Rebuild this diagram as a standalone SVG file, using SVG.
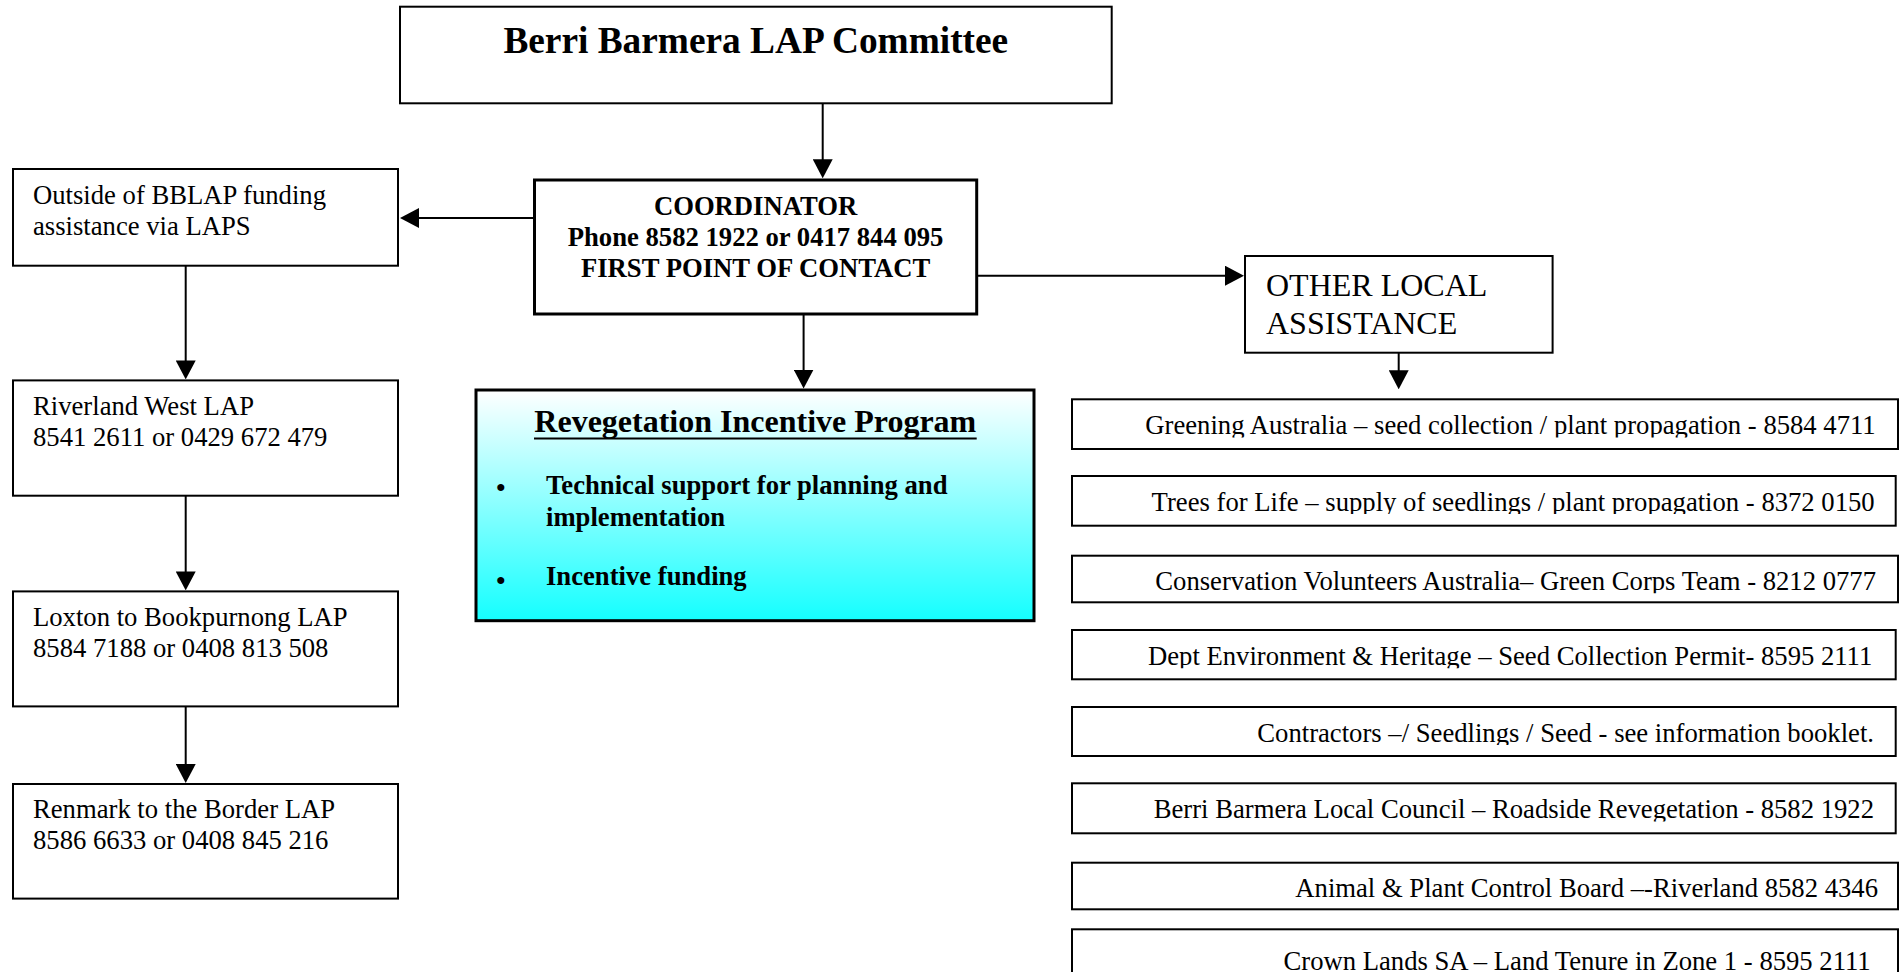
<svg xmlns="http://www.w3.org/2000/svg" width="1899" height="972" viewBox="0 0 1899 972">
<style>
  .box { fill: #ffffff; stroke: #000000; stroke-width: 2; }
  .thick { stroke-width: 3; }
  .t { font-family: "Liberation Serif", "Times New Roman", serif; fill: #000000; }
  .reg { font-size: 26.67px; }
  .bold { font-weight: bold; }
  .item { font-size: 26.67px; text-anchor: end; }
  .conn { stroke: #000000; stroke-width: 2; fill: none; marker-end: url(#arrow); }
</style>
<defs>
  <marker id="arrow" markerUnits="userSpaceOnUse" markerWidth="19" markerHeight="20" refX="9" refY="10" orient="auto" viewBox="0 0 19 20">
    <path d="M0,0 L19,10 L0,20 Z" fill="#000000"/>
  </marker>
  <linearGradient id="cyanGrad" x1="0" y1="0" x2="0" y2="1">
    <stop offset="0" stop-color="#ffffff"/>
    <stop offset="1" stop-color="#14ffff"/>
  </linearGradient>
  <clipPath id="c1"><rect x="1073" y="400" width="825" height="37.5"/></clipPath>
  <clipPath id="c2"><rect x="1073" y="477" width="825" height="37"/></clipPath>
  <clipPath id="c3"><rect x="1073" y="556" width="825" height="37.2"/></clipPath>
  <clipPath id="c4"><rect x="1073" y="631" width="825" height="37.2"/></clipPath>
  <clipPath id="c5"><rect x="1073" y="708" width="825" height="37"/></clipPath>
  <clipPath id="c6"><rect x="1073" y="784" width="825" height="37.5"/></clipPath>
</defs>

<rect width="1899" height="972" fill="#ffffff"/>

<g id="connectors">
  <path class="conn" d="M822.7,103.3 V168.3"/>
  <path class="conn" d="M534.5,218 H410"/>
  <path class="conn" d="M976.7,275.7 H1234"/>
  <path class="conn" d="M803.6,314 V378.5"/>
  <path class="conn" d="M185.7,265.7 V369.4"/>
  <path class="conn" d="M185.7,495.7 V580.4"/>
  <path class="conn" d="M185.7,706.4 V773"/>
  <path class="conn" d="M1398.7,352.7 V379.3"/>
</g>

<g id="node-committee">
  <rect class="box" x="400" y="6.7" width="711.7" height="96.6"/>
  <text class="t bold" x="755.8" y="52.7" font-size="37.33" text-anchor="middle">Berri Barmera LAP Committee</text>
</g>

<g id="node-coordinator">
  <rect class="box thick" x="534.5" y="180" width="442.2" height="134"/>
  <text class="t bold reg" x="755.6" y="215" text-anchor="middle">COORDINATOR</text>
  <text class="t bold reg" x="755.6" y="246" text-anchor="middle">Phone 8582 1922 or 0417 844 095</text>
  <text class="t bold reg" x="755.6" y="277" text-anchor="middle">FIRST POINT OF CONTACT</text>
</g>

<g id="node-outside">
  <rect class="box" x="13" y="169" width="385" height="96.7"/>
  <text class="t reg" x="33" y="204">Outside of BBLAP funding</text>
  <text class="t reg" x="33" y="235">assistance via LAPS</text>
</g>

<g id="node-riverland">
  <rect class="box" x="13" y="380.4" width="385" height="115.3"/>
  <text class="t reg" x="33" y="415">Riverland West LAP</text>
  <text class="t reg" x="33" y="446">8541 2611 or 0429 672 479</text>
</g>

<g id="node-loxton">
  <rect class="box" x="13" y="591.4" width="385" height="115"/>
  <text class="t reg" x="33" y="626">Loxton to Bookpurnong LAP</text>
  <text class="t reg" x="33" y="657">8584 7188 or 0408 813 508</text>
</g>

<g id="node-renmark">
  <rect class="box" x="13" y="784" width="385" height="114.6"/>
  <text class="t reg" x="33" y="818">Renmark to the Border LAP</text>
  <text class="t reg" x="33" y="849">8586 6633 or 0408 845 216</text>
</g>

<g id="node-revegetation">
  <rect x="476" y="390" width="558" height="230.7" fill="url(#cyanGrad)" stroke="#000000" stroke-width="3"/>
  <text class="t bold" x="755.3" y="431.7" font-size="32" text-anchor="middle">Revegetation Incentive Program</text>
  <line x1="534" y1="438.5" x2="976.7" y2="438.5" stroke="#000000" stroke-width="2.2"/>
  <text class="t bold" x="500.7" y="496" font-size="26" text-anchor="middle">•</text>
  <text class="t bold reg" x="546" y="494">Technical support for planning and</text>
  <text class="t bold reg" x="546" y="525.5">implementation</text>
  <text class="t bold" x="500.7" y="589" font-size="26" text-anchor="middle">•</text>
  <text class="t bold reg" x="546" y="585">Incentive funding</text>
</g>

<g id="node-other">
  <rect class="box" x="1245" y="256" width="307.6" height="96.7"/>
  <text class="t" x="1266" y="296" font-size="32">OTHER LOCAL</text>
  <text class="t" x="1266" y="334" font-size="32">ASSISTANCE</text>
</g>

<g id="node-greening">
  <rect class="box" x="1072" y="399.3" width="826" height="49.7"/>
  <text class="t item" x="1875.7" y="434.3" clip-path="url(#c1)">Greening Australia – seed collection / plant propagation - 8584 4711</text>
</g>

<g id="node-trees">
  <rect class="box" x="1072" y="476" width="823.7" height="49.7"/>
  <text class="t item" x="1874.7" y="510.7" clip-path="url(#c2)">Trees for Life – supply of seedlings / plant propagation - 8372 0150</text>
</g>

<g id="node-conservation">
  <rect class="box" x="1072" y="555.7" width="826" height="46.6"/>
  <text class="t item" x="1876" y="590" clip-path="url(#c3)">Conservation Volunteers Australia– Green Corps Team - 8212 0777</text>
</g>

<g id="node-dept">
  <rect class="box" x="1072" y="630" width="823.7" height="49.3"/>
  <text class="t item" x="1872.3" y="665" clip-path="url(#c4)">Dept Environment &amp; Heritage – Seed Collection Permit- 8595 2111</text>
</g>

<g id="node-contractors">
  <rect class="box" x="1072" y="707" width="823.7" height="49"/>
  <text class="t item" x="1874" y="741.7" clip-path="url(#c5)">Contractors –/ Seedlings / Seed - see information booklet.</text>
</g>

<g id="node-council">
  <rect class="box" x="1072" y="783.3" width="823.7" height="50"/>
  <text class="t item" x="1874" y="818.3" clip-path="url(#c6)">Berri Barmera Local Council – Roadside Revegetation - 8582 1922</text>
</g>

<g id="node-animal">
  <rect class="box" x="1072" y="862.7" width="826" height="46.6"/>
  <text class="t item" x="1878" y="897.3">Animal &amp; Plant Control Board –-Riverland 8582 4346</text>
</g>

<g id="node-crown">
  <rect class="box" x="1072" y="929.3" width="826" height="60"/>
  <text class="t item" x="1870.7" y="969.5">Crown Lands SA – Land Tenure in Zone 1 - 8595 2111</text>
</g>
</svg>
